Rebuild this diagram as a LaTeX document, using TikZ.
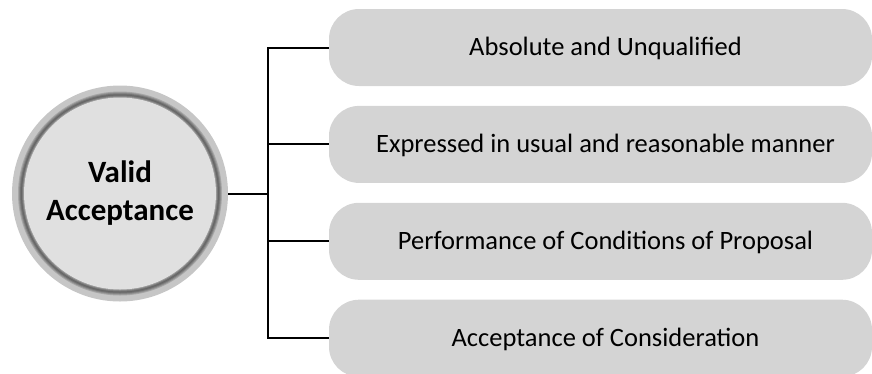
\documentclass[tikz,border=0pt]{standalone}
\usepackage{fontspec}
\setmainfont{Carlito}
\usetikzlibrary{positioning}

\begin{document}
\begin{tikzpicture}[x=1pt,y=1pt]
\def\R{108pt}
\def\gap{19.5pt}
\definecolor{item color}{HTML}{D4D4D4}
\definecolor{core color}{HTML}{E0E0E0}
\definecolor{rim color}{HTML}{C6C6C6}
\tikzset{
  item/.style={fill=item color,rounded corners=30pt,minimum width=543pt,minimum height=77pt,inner sep=0pt,
    text depth=2pt,font=\fontsize{26.5}{32}\selectfont,execute at begin node=\hspace*{10pt}},
  core/.style={circle,fill=core color,minimum size=192pt,inner sep=0pt,outer sep=12pt,align=center,
    font=\fontsize{31}{38}\selectfont\bfseries},
  link/.style={draw,black,line width=2pt}
}
\useasboundingbox (0,0) rectangle (872,-373);

%CORE
\coordinate (C) at (120,-193.5);
\fill[rim color] (C) circle (\R);
\foreach \rad/\shade in {102/35,101/45,100/55,99/60,98/52,97/40}
  \fill[black!\shade] (C) circle (\rad pt);
\node[core] (VA) at (C) {Valid\\Acceptance};

%ITEMS
\node[item] (B1) at (600.5,-47.5) {Absolute and Unqualified};
\node[item] (B2) [below=\gap of B1] {Expressed in usual and reasonable manner};
\node[item] (B3) [below=\gap of B2] {Performance of Conditions of Proposal};
\node[item] (B4) [below=\gap of B3] {Acceptance of Consideration};

%PATHS
\coordinate (T) at (268,-193.5);
\draw[link] (VA.east) -- (T);
\foreach \b in {B1,B2,B3,B4}
  \draw[link] (\b.west) -| (T);

\end{tikzpicture}
\end{document}
